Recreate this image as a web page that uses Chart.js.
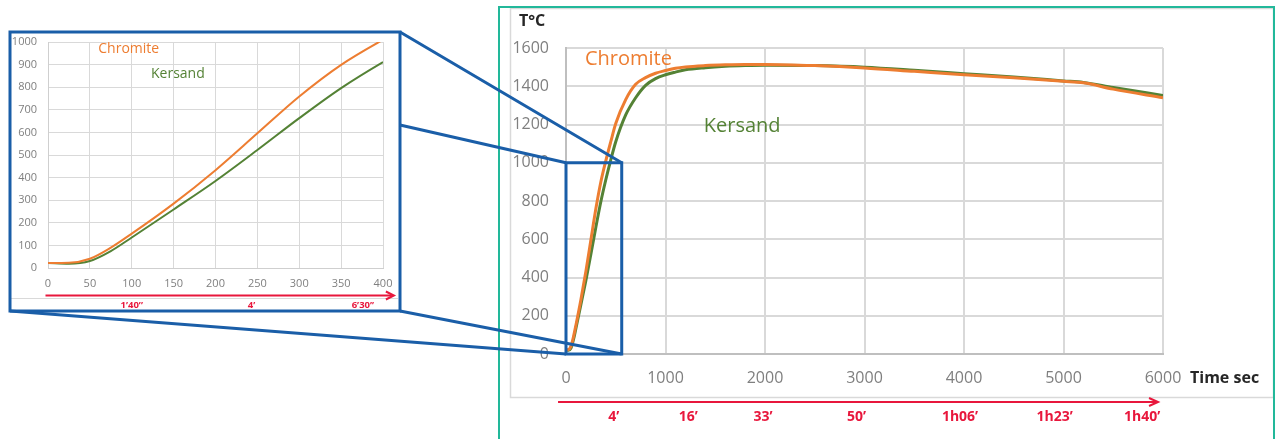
<!DOCTYPE html>
<html>
<head>
<meta charset="utf-8">
<script src="https://cdn.jsdelivr.net/npm/chart.js@4.4.1/dist/chart.umd.min.js"></script>
<style>
  body { margin: 0; background: #fff; width: 1276px; height: 439px; overflow: hidden; position: relative; }
  canvas { position: absolute; left: 0; top: 0; }
</style>
</head>
<body>
<canvas id="mainChart" width="1276" height="439"></canvas>
<canvas id="zoomChart" width="410" height="320"></canvas>
<canvas id="overlay" width="1276" height="439" style="pointer-events:none"></canvas>
<script>
// time in seconds, shared by both curves
const timeSec = [0, 25, 50, 75, 100, 150, 200, 250, 300, 350, 400, 450, 500, 600, 700, 800, 900, 1000, 1100, 1200, 1400, 1600, 1800, 2000, 2500, 3000, 3500, 4000, 4500, 5000, 5200, 5500, 6000];
// temperature °C
const chromite = [22, 23, 41, 90, 152, 285, 433, 596, 759, 899, 1010, 1110, 1205, 1330, 1410, 1445, 1468, 1482, 1494, 1501, 1508, 1512, 1514, 1514, 1508, 1496, 1478, 1460, 1444, 1426, 1418, 1385, 1340];
const kersand = [22, 19, 31, 75, 135, 259, 385, 522, 663, 796, 911, 1015, 1110, 1250, 1340, 1405, 1440, 1460, 1474, 1486, 1497, 1504, 1508, 1510, 1508, 1500, 1484, 1466, 1448, 1428, 1420, 1393, 1352];

// red time annotations under the axes (label, position in seconds)
const mainTimeLabels = ["4’", "16’", "33’", "50’", "1h06’", "1h23’", "1h40’"];
const mainTimeAt = [480, 1230, 1980, 2920, 3960, 4910, 5790];
const zoomTimeLabels = ["1’40’’", "4’", "6’30’’"];
const zoomTimeAt = [100, 243, 376];

const ORANGE = "#ED7D31";
const GREEN = "#548235";
const BLUE = "#1A5EA8";
const RED = "#E8173C";
const TEAL = "#22B89A";
const GRID = "#d9d9d9";
const TICK = "#7f7f7f";

Chart.defaults.font.family = '"Open Sans", sans-serif';

function toPoints(xs, ys) {
  return xs.map((x, i) => ({ x: x, y: ys[i] }));
}

function plain(v) {
  return String(v);
}

function makeDatasets(width) {
  return [
    { label: "Chromite", data: toPoints(timeSec, chromite), borderColor: ORANGE, borderWidth: width, pointRadius: 0, cubicInterpolationMode: "monotone" },
    { label: "Kersand", data: toPoints(timeSec, kersand), borderColor: GREEN, borderWidth: width, pointRadius: 0, cubicInterpolationMode: "monotone" }
  ];
}

// Main chart, 0 - 6000 s
const mainChart = new Chart(document.getElementById("mainChart"), {
  type: "line",
  data: { datasets: makeDatasets(3) },
  options: {
    responsive: false,
    animation: false,
    devicePixelRatio: 1,
    layout: { padding: { left: 499, top: 48, right: 113, bottom: 39 } },
    plugins: { legend: { display: false }, tooltip: { enabled: false } },
    scales: {
      x: {
        type: "linear", min: 0, max: 6000,
        ticks: { stepSize: 1000, padding: 15, color: TICK, font: { size: 16 }, maxRotation: 0, callback: plain },
        grid: { color: GRID, lineWidth: 2, drawTicks: false },
        border: { color: "#bfbfbf", width: 2 },
        afterFit(s) { s.height = 46; }
      },
      y: {
        min: 0, max: 1600,
        ticks: { stepSize: 200, padding: 17, color: TICK, font: { size: 16 }, callback: plain },
        grid: { color: GRID, lineWidth: 2, drawTicks: false },
        border: { color: "#bfbfbf", width: 2 },
        afterFit(s) { s.width = 67; }
      }
    }
  }
});

// Zoomed chart, first 400 s
const zoomChart = new Chart(document.getElementById("zoomChart"), {
  type: "line",
  data: { datasets: makeDatasets(2) },
  options: {
    responsive: false,
    animation: false,
    devicePixelRatio: 1,
    layout: { padding: { left: 0, top: 42, right: 27, bottom: 30 } },
    plugins: { legend: { display: false }, tooltip: { enabled: false } },
    scales: {
      x: {
        type: "linear", min: 0, max: 400,
        ticks: { stepSize: 50, padding: 9, color: TICK, font: { size: 11 }, maxRotation: 0, callback: plain },
        grid: { color: GRID, lineWidth: 1, drawTicks: false },
        border: { color: "#cfcfcf", width: 1 },
        afterFit(s) { s.height = 22; }
      },
      y: {
        min: 0, max: 1000,
        ticks: { stepSize: 100, padding: 11, color: TICK, font: { size: 11 }, callback: plain },
        grid: { color: GRID, lineWidth: 1, drawTicks: false },
        border: { color: "#cfcfcf", width: 1 },
        afterFit(s) { s.width = 48; }
      }
    }
  }
});

function arrow(ctx, x0, x1, y, len, half) {
  ctx.beginPath();
  ctx.moveTo(x0, y);
  ctx.lineTo(x1 - 2, y);
  ctx.stroke();
  ctx.beginPath();
  ctx.moveTo(x1 - len, y - half);
  ctx.lineTo(x1, y);
  ctx.lineTo(x1 - len, y + half);
  ctx.stroke();
}

function drawOverlay() {
  const ctx = document.getElementById("overlay").getContext("2d");
  const mx = mainChart.scales.x, my = mainChart.scales.y;
  const zx = zoomChart.scales.x, zy = zoomChart.scales.y;

  // frames round the main chart
  ctx.strokeStyle = GRID;
  ctx.lineWidth = 1.5;
  ctx.strokeRect(510.5, 8.5, 763, 389);
  ctx.strokeStyle = TEAL;
  ctx.lineWidth = 2;
  ctx.strokeRect(499, 7, 775, 440);

  // series names
  ctx.textBaseline = "middle";
  ctx.textAlign = "left";
  ctx.font = '20px "Open Sans"';
  ctx.fillStyle = ORANGE;
  ctx.fillText("Chromite", mx.getPixelForValue(190), my.getPixelForValue(1540));
  ctx.fillStyle = GREEN;
  ctx.fillText("Kersand", mx.getPixelForValue(1385), my.getPixelForValue(1190));
  ctx.font = '14px "Open Sans"';
  ctx.fillStyle = ORANGE;
  ctx.fillText("Chromite", zx.getPixelForValue(60), zy.getPixelForValue(970));
  ctx.fillStyle = GREEN;
  ctx.fillText("Kersand", zx.getPixelForValue(123), zy.getPixelForValue(860));

  // axis titles
  ctx.fillStyle = "#262626";
  ctx.font = 'bold 16px "Open Sans"';
  ctx.fillText("T°C", 519, 21);
  ctx.fillText("Time sec", 1190, my.bottom + 24);

  // red time arrows and labels
  ctx.strokeStyle = RED;
  ctx.lineWidth = 2;
  arrow(ctx, mx.getPixelForValue(-80), mx.getPixelForValue(5950), 402, 9, 4);
  ctx.fillStyle = RED;
  ctx.textAlign = "center";
  ctx.font = 'bold 14px "Open Sans"';
  mainTimeLabels.forEach((t, i) => ctx.fillText(t, mx.getPixelForValue(mainTimeAt[i]), 417));

  ctx.strokeStyle = GRID;
  ctx.lineWidth = 1;
  ctx.beginPath();
  ctx.moveTo(11, 298.5);
  ctx.lineTo(398, 298.5);
  ctx.stroke();
  ctx.strokeStyle = RED;
  ctx.lineWidth = 2;
  arrow(ctx, zx.getPixelForValue(-3), zx.getPixelForValue(413), 295.5, 8, 4);
  ctx.font = 'bold 9.5px "Open Sans"';
  zoomTimeLabels.forEach((t, i) => ctx.fillText(t, zx.getPixelForValue(zoomTimeAt[i]), 305));

  // zoom box on the main chart
  const bx0 = mx.getPixelForValue(0), bx1 = mx.getPixelForValue(560);
  const by0 = my.getPixelForValue(1000), by1 = my.getPixelForValue(0);
  ctx.strokeStyle = BLUE;
  ctx.lineWidth = 3;
  ctx.strokeRect(bx0, by0, bx1 - bx0, by1 - by0);

  // frame of the zoomed chart
  const fx0 = 10, fy0 = 32, fx1 = 400, fy1 = 311;
  ctx.strokeRect(fx0, fy0, fx1 - fx0, fy1 - fy0);

  // connector lines
  ctx.beginPath();
  ctx.moveTo(fx1, fy0); ctx.lineTo(bx1, by0);
  ctx.moveTo(fx1, 125); ctx.lineTo(bx0, by0);
  ctx.moveTo(fx1, fy1); ctx.lineTo(bx1, by1);
  ctx.moveTo(fx0, fy1); ctx.lineTo(bx0, by1);
  ctx.stroke();
}

drawOverlay();
</script>
</body>
</html>
